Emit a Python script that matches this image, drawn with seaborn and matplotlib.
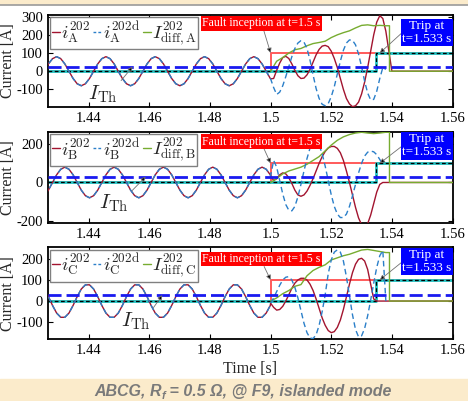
import numpy as np
import seaborn as sns
import matplotlib.pyplot as plt
from matplotlib.lines import Line2D
from matplotlib.patches import Rectangle
from matplotlib.ticker import FuncFormatter

# ---------------- DATA ----------------
# time grids [s]
t_pre = 1.42537 + np.arange(56) * 0.001355      # 12 samples per cycle, before the fault
t_post = np.r_[1.5 + np.arange(41) / 1000, 1.56]
t_diff = np.r_[1.5 + np.arange(20) / 500, 1.5392, 1.5392, 1.56]
t_flag = [1.4265, 1.5, 1.5, 1.56]
t_trip = [1.4265, 1.5348, 1.5348, 1.56]
flag_vals = [0, 0, 100, 100]

# pre-fault current (i and i_d overlap)
iA_pre = [0, 40, 69, 80, 69, 40, 0, -40, -69, -80, -69, -40] * 4 + [0, 40, 69, 80, 69, 40, 0, -40]
iB_pre = [-69, -40, 0, 40, 69, 80, 69, 40, 0, -40, -69, -80] * 4 + [-69, -40, 0, 40, 69, 80, 69, 40]
iC_pre = [57, 21, -21, -57, -77, -77, -57, -21, 21, 57, 77, 77] * 4 + [57, 21, -21, -57, -77, -77, -57, -21]

# post-fault currents at 1 ms (last value at 1.56 s)
iA_post = [-42, -40, 5, 45, 75, 82, 70, 40, 5, -25, -40, -38, -20, 10, 50, 90, 120, 138, 142, 135,
           110, 70, 20, -40, -100, -150, -180, -195, -190, -170, -125, -60, 20, 110, 200, 270, 305,
           290, 220, 110, 0, 0]
iAd_post = [-42, -90, -128, -115, -80, -30, 25, 80, 125, 155, 168, 160, 125, 60, -20, -95, -150, -182,
            -190, -178, -140, -85, -15, 55, 115, 155, 172, 170, 145, 95, 25, -55, -120, -158, -155,
            -110, -40, 20, 10, np.nan, np.nan, np.nan]
iB_post = [35, 10, 20, 40, 50, 45, 25, -5, -40, -65, -72, -65, -45, -15, 20, 60, 100, 135, 162, 180,
           188, 188, 178, 155, 115, 60, 0, -65, -130, -185, -220, -230, -215, -170, -110, -50, -10,
           0, 0, 0, 0, 0]
iBd_post = [35, 115, 80, 10, -60, -115, -145, -148, -125, -75, -10, 60, 125, 180, 210, 214, 195, 150,
            85, 10, -65, -125, -165, -183, -183, -165, -125, -70, -10, 50, 100, 138, 158, 164, 160,
            145, 120, 95, np.nan, np.nan, np.nan, np.nan]
iC_post = [-10, -30, -43, -40, -25, 0, 30, 60, 85, 100, 108, 108, 100, 80, 50, 10, -35, -80, -115,
           -140, -150, -145, -125, -90, -40, 20, 80, 135, 175, 198, 203, 190, 150, 80, 10, 0, 0, 0,
           0, 0, 0, 0]
iCd_post = [-10, 15, 45, 75, 100, 113, 116, 100, 65, 15, -45, -105, -150, -175, -178, -160, -115, -50,
            30, 130, 195, 232, 243, 232, 190, 115, 25, -65, -135, -170, -165, -130, -70, 5, 85, 160,
            215, 240, 0, np.nan, np.nan, np.nan]

# differential current (2 ms, then trip drop)
IdA = [0, 55, 75, 100, 118, 125, 140, 152, 158, 165, 185, 200, 212, 222, 238, 252, 255, 250, 252, 250,
       250, 0, 0]
IdB = [0, 20, 45, 60, 70, 80, 95, 115, 135, 165, 195, 220, 238, 250, 258, 262, 258, 255, 258, 262,
       262, 0, 0]
IdC = [0, 15, 35, 50, 70, 78, 120, 145, 160, 172, 195, 205, 215, 222, 232, 242, 245, 240, 235, 230,
       230, 0, 0]

phases = ["A", "B", "C"]
i_pre = [iA_pre, iB_pre, iC_pre]
i_post = [iA_post, iB_post, iC_post]
id_post = [iAd_post, iBd_post, iCd_post]
i_diff = [IdA, IdB, IdC]
i_th = [25, 30, 28]
th_time = [1.4545, 1.4588, 1.4643]

# ---------------- STYLE ----------------
sns.set_style("ticks")
plt.rcParams.update({
    "font.family": "serif",
    "font.serif": ["Liberation Serif", "DejaVu Serif"],
    "mathtext.fontset": "cm",
    "axes.unicode_minus": False,
    "xtick.direction": "in", "ytick.direction": "in",
    "xtick.top": True, "ytick.right": True,
    "axes.linewidth": 1.3, "axes.edgecolor": "black",
    "xtick.color": "black", "ytick.color": "black",
    "xtick.major.size": 3.5, "ytick.major.size": 3.5,
    "xtick.labelsize": 10.5, "ytick.labelsize": 10.5,
})

RED, BLUE, GREEN = "#A2142F", "#2A7FC9", "#77AC30"

fig = plt.figure(figsize=(4.68, 4.01), dpi=100)

# beige frame bits (slide background)
fig.patches.append(Rectangle((0, 0), 1, 22 / 401, transform=fig.transFigure,
                             color="#FBEBCB", zorder=0))
fig.patches.append(Rectangle((0, 1 - 4 / 401), 1, 4 / 401, transform=fig.transFigure,
                             color="#FBEBCB", zorder=0))
fig.add_artist(Line2D([0, 1], [1 - 4.5 / 401] * 2, transform=fig.transFigure, color="#9a9a9a", lw=1.2))

ax_pos = [[0.102, 0.734, 0.865, 0.229],
          [0.102, 0.4446, 0.865, 0.227],
          [0.102, 0.1546, 0.865, 0.2287]]
ylims = [(-195, 310), (-210, 265), (-180, 255)]
yticks = [[-100, 0, 100, 200, 300], [-200, 0, 200], [-100, 0, 100, 200]]
fault_txt_y = [0.907, 0.892, 0.872]
trip_txt_y = [0.809, 0.845, 0.843]
th_txt = [(0.1365, 0.139), (0.1637, 0.2165), (0.2168, 0.189)]

for k, ph in enumerate(phases):
    ax = fig.add_axes(ax_pos[k])

    # fault flag / trip signals
    sns.lineplot(x=t_flag, y=flag_vals, estimator=None, sort=False, color="#FF5A5A", lw=1.4, ax=ax, zorder=2)
    sns.lineplot(x=t_trip, y=flag_vals, estimator=None, sort=False, color="#22C3C3", lw=2.0, ax=ax, zorder=2.2)
    sns.lineplot(x=t_trip, y=flag_vals, estimator=None, sort=False, color="black", lw=0.9,
                 ls=(0, (3, 2)), ax=ax, zorder=2.4)

    # currents
    sns.lineplot(x=np.r_[t_pre, t_post], y=np.r_[i_pre[k], i_post[k]], estimator=None, sort=False,
                 color=RED, lw=1.0, ax=ax, zorder=3)
    sns.lineplot(x=np.r_[t_pre, t_post], y=np.r_[i_pre[k], id_post[k]], estimator=None, sort=False,
                 color=BLUE, lw=1.0, ls=(0, (4, 2.5)), ax=ax, zorder=3.2)
    sns.lineplot(x=t_diff, y=i_diff[k], estimator=None, sort=False, color=GREEN, lw=1.0, ax=ax, zorder=3.1)

    # threshold
    ax.axhline(i_th[k], color="#1A1AF0", lw=2.0, ls=(0, (4.7, 1.8)), zorder=4)

    ax.set_xlim(1.4265, 1.56)
    ax.set_ylim(*ylims[k])
    ax.set_xticks([1.44, 1.46, 1.48, 1.5, 1.52, 1.54, 1.56])
    ax.xaxis.set_major_formatter(FuncFormatter(lambda v, _: f"{v:g}"))
    ax.set_yticks(yticks[k])
    ax.set_ylabel("Current [A]", fontsize=11.5)
    ax.yaxis.set_label_coords(-0.079, 0.5)
    ax.set_xlabel("")

    handles = [Line2D([], [], color=RED, lw=1.0),
               Line2D([], [], color=BLUE, lw=1.0, ls=(0, (2, 1.5))),
               Line2D([], [], color=GREEN, lw=1.0)]
    labels = [rf"$i_{{\mathrm{{{ph}}}}}^{{202}}$", rf"$i_{{\mathrm{{{ph}}}}}^{{202\mathrm{{d}}}}$",
              rf"$I_{{\mathrm{{diff,{ph}}}}}^{{202}}$"]
    ax.legend(handles, labels, ncol=3, loc="upper left", fontsize=13.5, handlelength=0.45,
              handletextpad=0.05, columnspacing=0.15, borderpad=0.1, borderaxespad=0.12,
              frameon=True, fancybox=False, edgecolor="#808080", framealpha=1)

    ax.annotate("Fault inception at t=1.5 s", xy=(1.5, 100), xytext=(0.527, fault_txt_y[k]),
                textcoords="axes fraction", ha="center", va="center", fontsize=8.5, color="white",
                bbox=dict(boxstyle="square,pad=0.12", fc="#FF0000", ec="none"),
                arrowprops=dict(arrowstyle="-|>", ec="#707070", fc="black", lw=0.6, mutation_scale=7,
                                shrinkA=0, shrinkB=0, relpos=(0.52, 0)), zorder=6)
    ax.annotate("Trip at\nt=1.533 s", xy=(1.536, 100), xytext=(0.937, trip_txt_y[k]),
                textcoords="axes fraction", ha="center", va="center", fontsize=9.5, color="white",
                linespacing=1.1,
                bbox=dict(boxstyle="square,pad=0.1", fc="#0000FF", ec="none"),
                arrowprops=dict(arrowstyle="-|>", ec="#707070", fc="black", lw=0.6, mutation_scale=7,
                                shrinkA=0, shrinkB=0, relpos=(0, 0.5)), zorder=6)
    ax.annotate(r"$I_{\mathrm{Th}}$", xy=(th_time[k], i_th[k]), xytext=th_txt[k],
                textcoords="axes fraction", ha="center", va="center", fontsize=15,
                arrowprops=dict(arrowstyle="-|>", ec="#707070", fc="black", lw=0.6, mutation_scale=7,
                                shrinkA=0, shrinkB=0, relpos=(0.95, 0.85)), zorder=6)
    if k == 2:
        ax.set_xlabel("Time [s]", fontsize=11.5, labelpad=3)

# caption in the slide band
r = fig.canvas.get_renderer()
parts = [("ABCG, R", 11.5, 0), ("f", 8, -3), (" = 0.5 \u03a9, @ F9, islanded mode", 11.5, 0)]
cap_kw = dict(family="Liberation Sans", weight="bold", style="italic", color="#7a7a7a", va="baseline")
widths = []
for s, size, dy in parts:
    tmp = fig.text(0, 0, s, fontsize=size, **cap_kw)
    widths.append(tmp.get_window_extent(r).width)
    tmp.remove()
x = 243 - sum(widths) / 2
base = 401 - 396
for (s, size, dy), w in zip(parts, widths):
    fig.text(x / 468, (base + dy) / 401, s, fontsize=size, **cap_kw)
    x += w

fig.savefig("out.png", dpi=100)
